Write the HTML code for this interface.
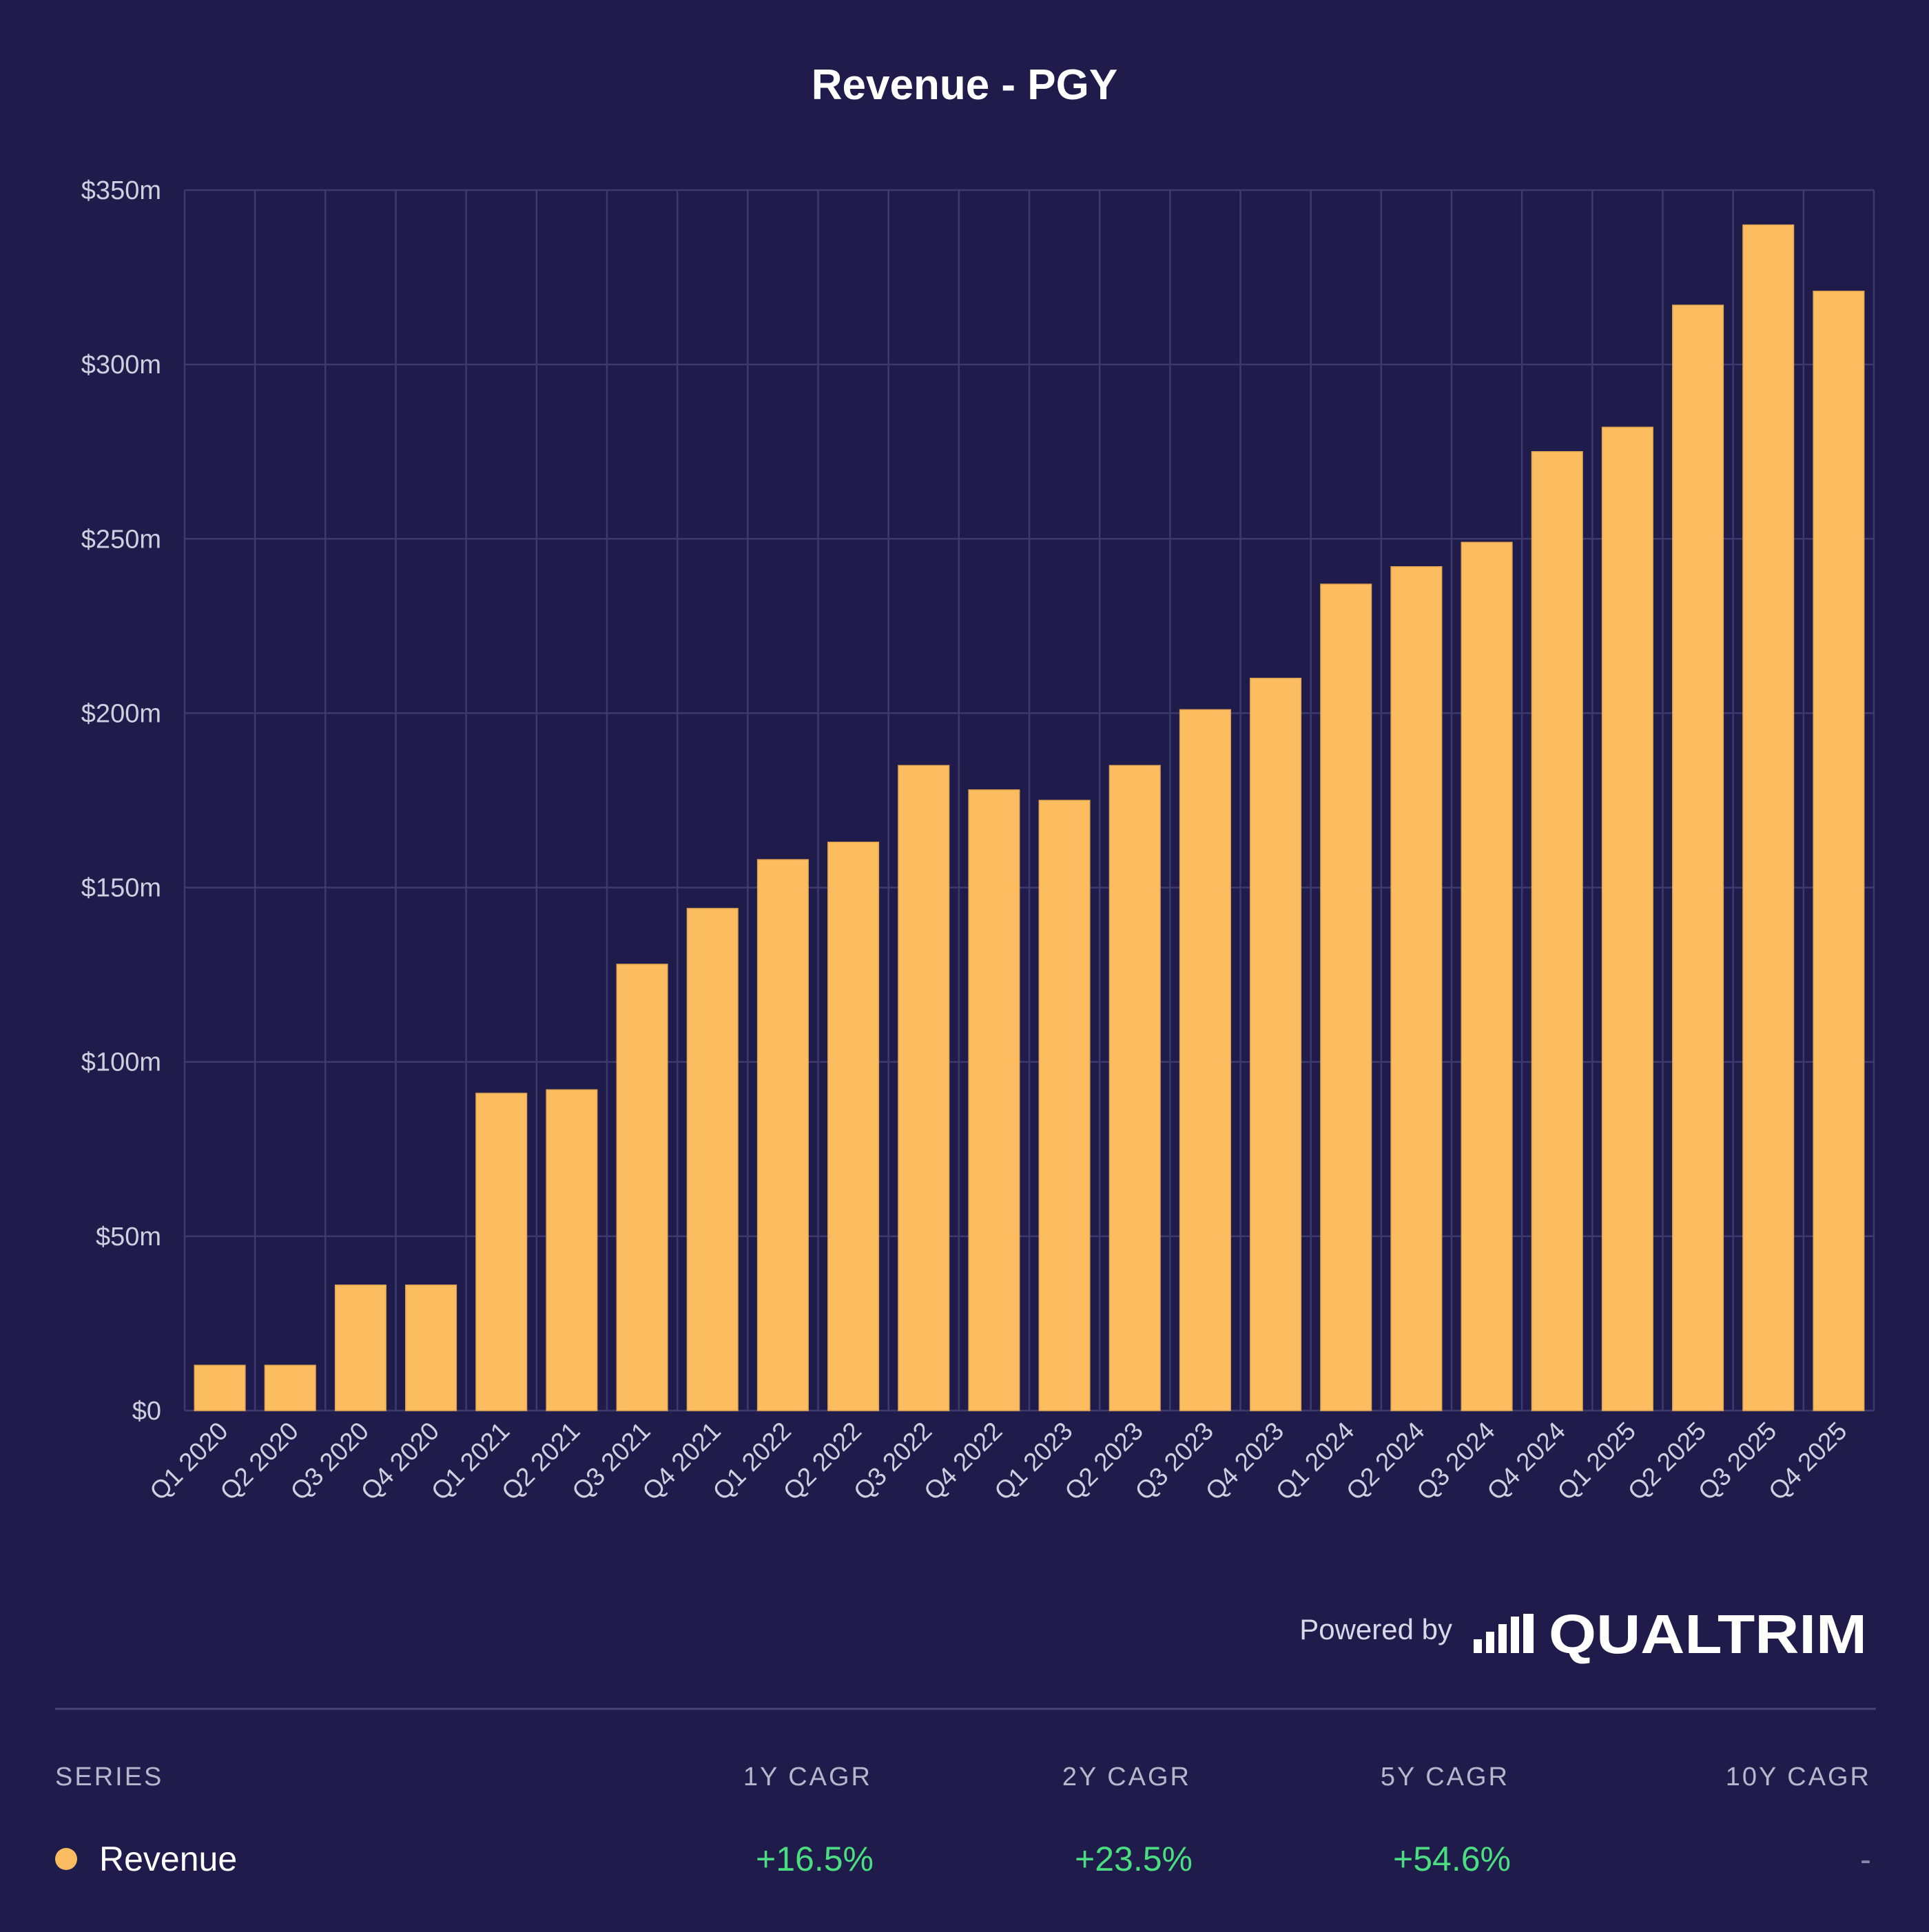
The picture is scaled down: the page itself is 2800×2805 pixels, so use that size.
<!DOCTYPE html>
<html><head><meta charset="utf-8"><style>
body{margin:0;background:#1f1b4b;width:2800px;height:2800px;overflow:hidden;font-family:"Liberation Sans",sans-serif}
</style></head><body>
<svg id="c" width="2800" height="2800" xmlns="http://www.w3.org/2000/svg">
<rect width="2800" height="2800" fill="#1f1b4b"/>
<text x="1400" y="144" text-anchor="middle" fill="#fff" font-size="62" font-weight="bold">Revenue - PGY</text>
<g id="grid"></g><g id="bars"></g><g id="ylab"></g><g id="xlab"></g>
<text x="2108" y="2380" text-anchor="end" fill="#d8d8e8" font-size="42">Powered by</text>
<g fill="#fff">
<rect x="2139" y="2380" width="12" height="20"/><rect x="2157" y="2369" width="12" height="31"/><rect x="2175" y="2358" width="12" height="42"/><rect x="2193" y="2347" width="12" height="53"/><rect x="2211" y="2343" width="15" height="57"/>
</g>
<text x="2710" y="2400" text-anchor="end" fill="#fff" font-size="80" font-weight="900" textLength="462" lengthAdjust="spacingAndGlyphs">QUALTRIM</text>
<line x1="80" y1="2481" x2="2723" y2="2481" stroke="#4a4678" stroke-width="3"/>
<g fill="#b8b6cc" font-size="38" letter-spacing="3">
<text x="80" y="2592">SERIES</text>
<text x="1266" y="2592" text-anchor="end">1Y CAGR</text>
<text x="1729" y="2592" text-anchor="end">2Y CAGR</text>
<text x="2191" y="2592" text-anchor="end">5Y CAGR</text>
<text x="2716" y="2592" text-anchor="end">10Y CAGR</text>
</g>
<circle cx="96" cy="2699" r="16" fill="#fbbd60"/>
<text x="144" y="2716" fill="#fff" font-size="50">Revenue</text>
<g fill="#4ade80" font-size="50" text-anchor="end">
<text x="1268" y="2716">+16.5%</text>
<text x="1731" y="2716">+23.5%</text>
<text x="2193" y="2716">+54.6%</text>
</g>
<text x="2716" y="2716" text-anchor="end" fill="#8a88a8" font-size="48">-</text>
</svg>
<script>
const categories=["Q1 2020","Q2 2020","Q3 2020","Q4 2020","Q1 2021","Q2 2021","Q3 2021","Q4 2021","Q1 2022","Q2 2022","Q3 2022","Q4 2022","Q1 2023","Q2 2023","Q3 2023","Q4 2023","Q1 2024","Q2 2024","Q3 2024","Q4 2024","Q1 2025","Q2 2025","Q3 2025","Q4 2025"];
const revenue=[13,13,36,36,91,92,128,144,158,163,185,178,175,185,201,210,237,242,249,275,282,317,340,321];
const yTicks=[0,50,100,150,200,250,300,350];
const yTickLabels=["$0","$50m","$100m","$150m","$200m","$250m","$300m","$350m"];
const NS="http://www.w3.org/2000/svg";
const L=268,R=2720,T=276,B=2048,YMAX=350;
const slot=(R-L)/categories.length;
function y(v){return B-(v/YMAX)*(B-T);}
function x(i){return L+slot*i;}
function mk(tag,attrs,parent){const e=document.createElementNS(NS,tag);for(const k in attrs)e.setAttribute(k,attrs[k]);document.getElementById(parent).appendChild(e);return e;}
yTicks.forEach((t,i)=>{
  const g=mk('line',{x1:L,x2:R,y1:y(t),y2:y(t),stroke:'#3d3a6e','stroke-width':2.5},'grid');
  
  
  const lb=mk('text',{x:L-34,y:y(t)+13,'text-anchor':'end',fill:'#d0cfe0','font-size':38},'ylab');
  lb.textContent=yTickLabels[i];
  
  
});
for(let i=0;i<=categories.length;i++){
  const g=mk('line',{x1:x(i),x2:x(i),y1:T,y2:B,stroke:'#3d3a6e','stroke-width':2.5},'grid');
  
  
}
const bw=slot*0.72;
categories.forEach((c,i)=>{
  const cx=x(i)+slot/2;
  const b=mk('rect',{x:cx-bw/2,y:y(revenue[i]),width:bw,height:B-y(revenue[i]),fill:'#fbbd60',stroke:'#e0a650','stroke-width':1.5},'bars');
  
  
  const t=mk('text',{x:cx+14,y:B+32,'text-anchor':'end',fill:'#d0cfe0','font-size':37,transform:`rotate(-45 ${cx+14} ${B+32})`},'xlab');
  t.textContent=c;
  
  
});
</script>
</body></html>
